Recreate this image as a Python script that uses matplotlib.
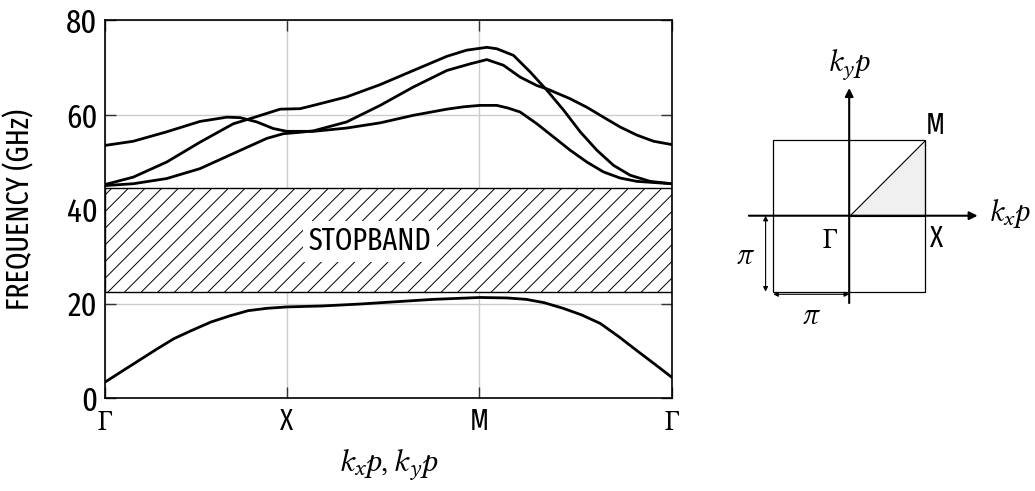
import numpy as np
import matplotlib
matplotlib.use("Agg")
import matplotlib.pyplot as plt
from matplotlib.patches import Rectangle, Polygon

plt.rcParams['font.family'] = ['Fira Sans Extra Condensed', 'DejaVu Sans']
plt.rcParams['mathtext.fontset'] = 'custom'
plt.rcParams['mathtext.rm'] = 'Libertinus Serif'
plt.rcParams['mathtext.it'] = 'Libertinus Serif:italic'
plt.rcParams['hatch.linewidth'] = 0.7

# path positions of the symmetry points (Γ, X, M, Γ)
sym_pos = [0.0, 0.964, 1.983, 3.0]
sym_labels = [r'$\Gamma$', 'X', 'M', r'$\Gamma$']

# band 1 (below the stopband)
b1_x = [0.0, 0.074, 0.172, 0.270, 0.368, 0.466, 0.563, 0.662, 0.759, 0.858,
        0.966, 1.151, 1.347, 1.542, 1.738, 1.986, 2.130, 2.230, 2.325, 2.426,
        2.524, 2.622, 2.720, 2.817, 2.916, 3.0]
b1_y = [3.3, 5.2, 7.7, 10.2, 12.6, 14.4, 16.1, 17.4, 18.5, 19.0,
        19.3, 19.5, 19.9, 20.4, 20.9, 21.3, 21.2, 20.9, 20.2, 19.0,
        17.6, 15.8, 13.0, 10.0, 7.0, 4.4]

# upper curves, traced as drawn
ua_x = [0.0, 0.152, 0.329, 0.505, 0.647, 0.717, 0.805, 0.892, 0.964, 1.034,
        1.105, 1.281, 1.458, 1.634, 1.811, 1.900, 1.986, 2.075, 2.137, 2.198,
        2.287, 2.375, 2.463, 2.551, 2.639, 2.728, 2.816, 3.0]
ua_y = [53.5, 54.4, 56.4, 58.6, 59.5, 59.4, 58.5, 57.1, 56.5, 56.5,
        56.5, 57.2, 58.3, 59.9, 61.2, 61.7, 62.0, 62.0, 61.4, 60.6,
        58.1, 55.3, 52.5, 50.0, 47.9, 46.6, 45.9, 45.4]

ub_x = [0.0, 0.152, 0.329, 0.505, 0.681, 0.787, 0.858, 0.929, 1.034, 1.105,
        1.281, 1.458, 1.634, 1.811, 1.916, 2.022, 2.075, 2.163, 2.251, 2.340,
        2.428, 2.516, 2.604, 2.692, 2.780, 2.886, 3.0]
ub_y = [45.2, 46.8, 50.0, 54.2, 58.1, 59.4, 60.3, 61.2, 61.3, 62.0,
        63.8, 66.4, 69.4, 72.4, 73.7, 74.3, 74.0, 72.6, 69.1, 65.2,
        61.0, 56.4, 52.5, 49.3, 47.2, 45.9, 45.4]

uc_x = [0.0, 0.152, 0.329, 0.505, 0.681, 0.858, 0.946, 1.034, 1.105, 1.281,
        1.458, 1.634, 1.811, 1.934, 2.022, 2.110, 2.198, 2.287, 2.340, 2.463,
        2.551, 2.639, 2.728, 2.816, 2.904, 3.0]
uc_y = [45.0, 45.4, 46.5, 48.6, 51.8, 55.0, 56.0, 56.3, 56.6, 58.5,
        62.0, 65.9, 69.4, 70.8, 71.7, 70.5, 68.0, 66.2, 65.5, 63.4,
        61.6, 59.5, 57.4, 55.7, 54.4, 53.7]

stop_lo, stop_hi = 22.4, 44.4

fig = plt.figure(figsize=(10.35, 4.91), dpi=100)
ax = fig.add_axes([0.101, 0.1894, 0.548, 0.769])

ax.add_patch(Rectangle((0, stop_lo), 3, stop_hi - stop_lo, facecolor='white',
                       edgecolor='black', hatch='//', lw=1.0, zorder=2))
ax.text(1.405, 33.2, 'STOPBAND', fontsize=22, ha='center', va='center',
        zorder=4, bbox=dict(facecolor='white', edgecolor='none', pad=4))

for xs, ys in [(b1_x, b1_y), (ua_x, ua_y), (ub_x, ub_y), (uc_x, uc_y)]:
    ax.plot(xs, ys, color='black', lw=2.0, zorder=5, solid_joinstyle='round')

ax.set_xlim(0, 3)
ax.set_ylim(0, 80)
ax.set_xticks(sym_pos)
ax.set_xticklabels(sym_labels)
ax.set_yticks([0, 20, 40, 60, 80])
ax.grid(True, color='#cccccc', lw=1.0, zorder=0)
ax.set_axisbelow(True)
ax.tick_params(direction='in', top=True, right=True, length=8, width=1,
               pad=5, color='#333333')
ax.tick_params(axis='y', labelsize=24)
ax.tick_params(axis='x', labelsize=21, pad=7)
for s in ax.spines.values():
    s.set_linewidth(1.2)
ax.set_ylabel('FREQUENCY (GHz)', fontsize=22)
ax.yaxis.set_label_coords(-0.122, 0.5)
ax.set_xlabel(r'$k_xp, k_yp$', fontsize=23, labelpad=8)

# Brillouin zone sketch
bz = fig.add_axes([0.710, 0.3279, 0.2899, 0.5906])
bz.set_xlim(-1.504, 2.443)
bz.set_ylim(-1.504, 2.312)
bz.set_aspect('equal')
bz.axis('off')
bz.add_patch(Polygon([(0, 0), (1, 0), (1, 1)], closed=True, facecolor='#f0f0f0',
                     edgecolor='black', lw=0.8))
bz.add_patch(Rectangle((-1, -1), 2, 2, facecolor='none', edgecolor='black', lw=0.9))
bz.annotate('', xy=(1.69, 0), xytext=(-1.32, 0),
            arrowprops=dict(arrowstyle='-|>', color='black', lw=1.5,
                            mutation_scale=12, shrinkA=0, shrinkB=0))
bz.annotate('', xy=(0, 1.68), xytext=(0, -1.15),
            arrowprops=dict(arrowstyle='-|>', color='black', lw=1.5,
                            mutation_scale=12, shrinkA=0, shrinkB=0))
bz.annotate('', xy=(-1.10, 0), xytext=(-1.10, -1),
            arrowprops=dict(arrowstyle='<|-|>', color='black', lw=0.8,
                            mutation_scale=7, shrinkA=0, shrinkB=0))
bz.annotate('', xy=(-1, -1.034), xytext=(0, -1.034),
            arrowprops=dict(arrowstyle='<|-|>', color='black', lw=0.8,
                            mutation_scale=7, shrinkA=0, shrinkB=0))
bz.text(0.0, 1.98, r'$k_yp$', fontsize=22, ha='center', va='center')
bz.text(2.11, 0.02, r'$k_xp$', fontsize=22, ha='center', va='center')
bz.text(1.13, 1.19, 'M', fontsize=21, ha='center', va='center')
bz.text(1.15, -0.30, 'X', fontsize=21, ha='center', va='center')
bz.text(-0.25, -0.32, r'$\Gamma$', fontsize=21, ha='center', va='center')
bz.text(-1.37, -0.52, r'$\pi$', fontsize=22, ha='center', va='center')
bz.text(-0.50, -1.31, r'$\pi$', fontsize=22, ha='center', va='center')

fig.savefig('out.png', dpi=100)
